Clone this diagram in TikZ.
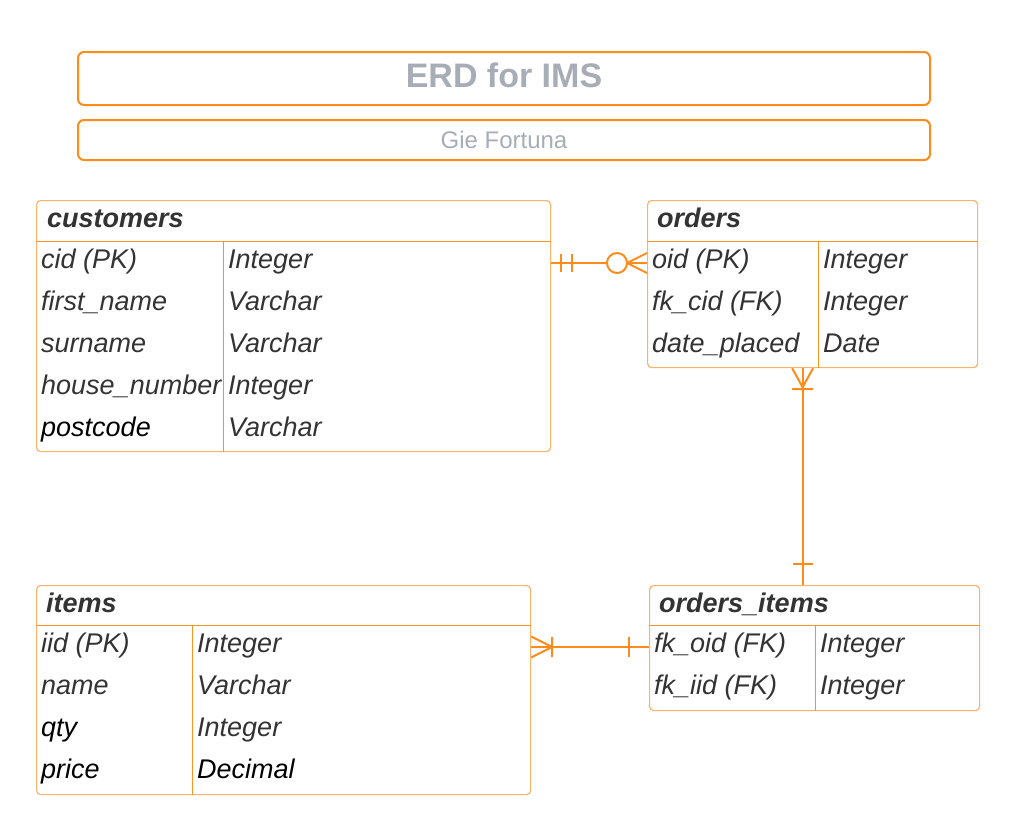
\documentclass[tikz,border=0pt]{standalone}
\usepackage{fontspec}
\setmainfont{Liberation Sans}
\definecolor{erdorange}{HTML}{FF8C1A}
\definecolor{tableedge}{HTML}{FBB36B}
\definecolor{tableline}{HTML}{F7961E}
\definecolor{titlegray}{HTML}{A7ADB6}
\definecolor{textgray}{HTML}{333333}
\tikzset{
  titlebox/.style={draw=erdorange, line width=2pt, rounded corners=6pt, minimum width=852pt, text=titlegray},
  tablebox/.style={draw=tableedge, line width=1.2pt, rounded corners=4pt, anchor=north west, inner sep=0pt},
  tabhead/.style={anchor=base west, inner sep=0pt, text=textgray, font=\fontsize{27}{30}\selectfont\bfseries\itshape},
  field/.style={anchor=west, inner xsep=5pt, inner ysep=0pt, minimum height=42pt, text height=16pt, text depth=6pt, text=textgray, font=\fontsize{27}{30}\selectfont\itshape},
  sep/.style={draw=tableline, line width=1pt},
  link/.style={draw=erdorange, line width=2pt},
}

\begin{document}
\begin{tikzpicture}[x=1pt, y=-1pt]
  \useasboundingbox (0,0) rectangle (1021,817);

  % title
  \node[titlebox, minimum height=53pt, text height=25pt, text depth=8pt, font=\fontsize{34}{36}\selectfont\bfseries] (title) at (504,78.5) {ERD for IMS};
  \node[titlebox, minimum height=40pt, text height=22pt, text depth=6pt, font=\fontsize{24}{26}\selectfont] (author) at (504,140) {Gie Fortuna};

  % customers
  \node[tablebox, minimum width=514pt, minimum height=251pt] (customers) at (36,200) {};
  \node[tabhead] (customers-h) at (47,227) {customers};
  \foreach \f/\t [count=\i] in {cid (PK)/Integer, first\_name/Varchar, surname/Varchar, house\_number/Integer} {
    \node[field] (cf\i) at (36,{263+42*(\i-1)}) {\f};
    \node[field] (ct\i) at (223,{263+42*(\i-1)}) {\t};
  }
  \node[field, text=black] (cf5) at (36,431) {postcode};
  \node[field] (ct5) at (223,431) {Varchar};
  \draw[sep] (customers.west |- cf1.north) -- (customers.east |- cf1.north);
  \draw[sep] (ct1.north west) -- (ct1.north west |- customers.south);

  % orders
  \node[tablebox, minimum width=330pt, minimum height=167pt] (orders) at (647,200) {};
  \node[tabhead] (orders-h) at (657,227) {orders};
  \foreach \f/\t [count=\i] in {oid (PK)/Integer, fk\_cid (FK)/Integer, date\_placed/Date} {
    \node[field] (of\i) at (647,{263+42*(\i-1)}) {\f};
    \node[field] (ot\i) at (818,{263+42*(\i-1)}) {\t};
  }
  \draw[sep] (orders.west |- of1.north) -- (orders.east |- of1.north);
  \draw[sep] (ot1.north west) -- (ot1.north west |- orders.south);

  % items
  \node[tablebox, minimum width=494pt, minimum height=209pt] (items) at (36,585) {};
  \node[tabhead] (items-h) at (46,612) {items};
  \foreach \f/\t [count=\i] in {iid (PK)/Integer, name/Varchar} {
    \node[field] (if\i) at (36,{647+42*(\i-1)}) {\f};
    \node[field] (it\i) at (192,{647+42*(\i-1)}) {\t};
  }
  \node[field, text=black] (if3) at (36,731) {qty};
  \node[field] (it3) at (192,731) {Integer};
  \node[field, text=black] (if4) at (36,773) {price};
  \node[field, text=black] (it4) at (192,773) {Decimal};
  \draw[sep] (items.west |- if1.north) -- (items.east |- if1.north);
  \draw[sep] (it1.north west) -- (it1.north west |- items.south);

  % orders_items
  \node[tablebox, minimum width=330pt, minimum height=125pt] (orders_items) at (649,585) {};
  \node[tabhead] (orders_items-h) at (659,612) {orders\_items};
  \foreach \f/\t [count=\i] in {fk\_oid (FK)/Integer, fk\_iid (FK)/Integer} {
    \node[field] (oif\i) at (649,{647+42*(\i-1)}) {\f};
    \node[field] (oit\i) at (815,{647+42*(\i-1)}) {\t};
  }
  \draw[sep] (orders_items.west |- oif1.north) -- (orders_items.east |- oif1.north);
  \draw[sep] (oit1.north west) -- (oit1.north west |- orders_items.south);

  % customers -- orders
  \draw[link] (customers.east |- cf1) -- (orders.west |- of1);
  \draw[link, shift={(customers.east |- cf1)}] (10,-9) -- (10,9) (21,-9) -- (21,9);
  \draw[link, shift={(orders.west |- of1)}] (0,-10) -- (-20,0) -- (0,10);
  \draw[link, fill=white, shift={(orders.west |- of1)}] (-30,0) circle (10);

  % orders -- orders_items
  \draw[link] ([xshift=-10pt]orders.south) -- ([xshift=-12pt]orders_items.north);
  \draw[link, shift={([xshift=-10pt]orders.south)}] (-10.5,0) -- (0,19) -- (10.5,0) (-10.5,21) -- (10.5,21);
  \draw[link, shift={([xshift=-12pt]orders_items.north)}] (-10,-21) -- (10,-21);

  % items -- orders_items
  \draw[link] (items.east |- if1) -- (orders_items.west |- oif1);
  \draw[link, shift={(items.east |- if1)}] (0,-10.5) -- (21,0) -- (0,10.5) (21,-10) -- (21,10);
  \draw[link, shift={(orders_items.west |- oif1)}] (-20,-10) -- (-20,10);
\end{tikzpicture}
\end{document}
